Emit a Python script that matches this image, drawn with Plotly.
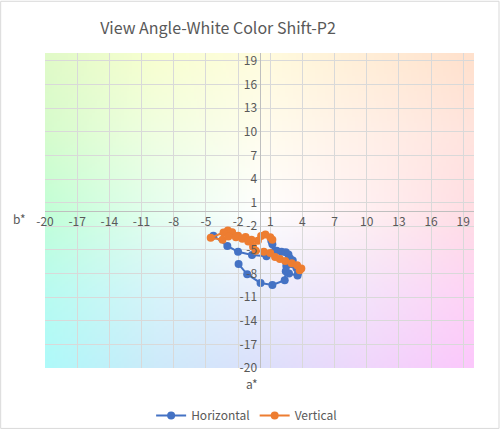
import base64, struct, zlib
import numpy as np
import plotly.graph_objects as go

# ---- data ----
tick_vals = [-20, -17, -14, -11, -8, -5, -2, 1, 4, 7, 10, 13, 16, 19]
tick_text = ["-20", "-17", "-14", "-11", "-8", "-5", "-2", "1", "4", "7", "10", "13", "16", "19"]

horiz_a = [-4.3, -3.0, -2.0, -0.7, 0.65, 1.3, 1.1, 1.2, 1.6, 2.05, 2.45, 2.7, 2.85, 3.1,
           2.9, 2.5, 3.45, 3.6, 3.55, 2.75, 2.45, 2.35, 1.2, 0.1, -1.15, -1.95]
horiz_b = [-3.2, -4.5, -5.25, -5.65, -5.8, -5.3, -3.85, -4.3, -5.1, -5.25, -5.3, -5.6, -6.1, -6.35,
           -6.7, -7.05, -7.3, -7.9, -8.25, -8.0, -7.7, -8.85, -9.45, -9.2, -8.1, -6.8]

vert_a = [1.2, 1.0, 0.55, 0.15, -0.15, -0.75, -1.3, -2.0, -2.55, -2.95, -3.35, -4.55, -3.45,
          -2.9, -2.2, -1.6, -1.05, -0.6, -0.35, 0.4, 1.0, 1.45, 1.9, 2.4, 3.0, 3.5, 3.9, 3.75]
vert_b = [-3.7, -3.4, -3.05, -3.25, -3.85, -3.7, -3.35, -3.2, -2.75, -2.55, -2.8, -3.45, -3.7,
          -3.3, -3.4, -3.6, -3.95, -4.6, -5.1, -5.25, -5.4, -5.9, -6.15, -6.4, -6.7, -6.95, -7.35, -7.6]

# ---- background a*b* colour field (decoration) ----
grid_x = [-20, -10, 0, 10, 20]
grid_y = [20, 10, 0, -10, -20]
grid_rgb = np.array([
    [(225, 250, 200), (248, 255, 208), (255, 252, 222), (255, 238, 215), (255, 225, 205)],
    [(215, 252, 205), (240, 255, 225), (255, 253, 238), (255, 240, 232), (255, 228, 222)],
    [(195, 255, 215), (228, 255, 238), (255, 255, 255), (255, 240, 242), (255, 222, 228)],
    [(185, 252, 240), (215, 245, 250), (235, 238, 252), (245, 228, 250), (255, 212, 245)],
    [(175, 250, 250), (205, 235, 250), (220, 225, 252), (240, 215, 252), (252, 200, 252)],
], dtype=float)

N = 160
xs = np.linspace(-20, 20, N)
ys = np.linspace(20, -20, N)
gx = np.interp(xs, grid_x, np.arange(5))
gy = np.interp(-ys, [-g for g in grid_y], np.arange(5))
img = np.zeros((N, N, 3))
for c in range(3):
    rows = np.array([np.interp(gx, np.arange(5), grid_rgb[r, :, c]) for r in range(5)])
    for j in range(N):
        img[:, j, c] = np.interp(gy, np.arange(5), rows[:, j])
img = np.clip(img, 0, 255).astype(np.uint8)


def png_uri(arr):
    h, w, _ = arr.shape
    raw = b"".join(b"\x00" + arr[i].tobytes() for i in range(h))

    def chunk(t, d):
        c = struct.pack(">I", len(d)) + t + d
        return c + struct.pack(">I", zlib.crc32(t + d) & 0xFFFFFFFF)

    data = b"\x89PNG\r\n\x1a\n" + chunk(b"IHDR", struct.pack(">IIBBBBB", w, h, 8, 2, 0, 0, 0)) \
        + chunk(b"IDAT", zlib.compress(raw, 9)) + chunk(b"IEND", b"")
    return "data:image/png;base64," + base64.b64encode(data).decode()


FONT = "Noto Sans CJK SC, Noto Sans, sans-serif"
GRAY = "#595959"

fig = go.Figure()
fig.add_trace(go.Scatter(x=horiz_a, y=horiz_b, mode="lines+markers", name="Horizontal",
                         line=dict(color="#4472C4", width=2),
                         marker=dict(color="#4472C4", size=8)))
fig.add_trace(go.Scatter(x=vert_a, y=vert_b, mode="lines+markers", name="Vertical",
                         line=dict(color="#ED7D31", width=2),
                         marker=dict(color="#ED7D31", size=8)))

axis_common = dict(range=[-20, 20], tickvals=tick_vals, ticktext=tick_text, showgrid=True,
                   gridcolor="#d9d9d9", gridwidth=1, zeroline=False, showline=True,
                   linecolor="#bfbfbf", linewidth=1, ticks="", anchor="free", position=0.5,
                   automargin=False, fixedrange=True,
                   tickfont=dict(family=FONT, size=12, color=GRAY))
fig.update_layout(
    width=500, height=430,
    margin=dict(l=45, r=26, t=53, b=62, autoexpand=False),
    paper_bgcolor="white", plot_bgcolor="white",
    font=dict(family=FONT, color=GRAY),
    title=dict(text="View Angle-White Color Shift-P2", xref="container", yref="container",
               x=0.436, y=0.935, xanchor="center", yanchor="middle",
               font=dict(family=FONT, size=16, color=GRAY)),
    xaxis=dict(**axis_common),
    yaxis=dict(**axis_common),
    showlegend=True,
    legend=dict(orientation="h", x=0.47, xanchor="center", y=-0.151, yanchor="middle",
                font=dict(family=FONT, size=12, color=GRAY), bgcolor="rgba(0,0,0,0)"),
    images=[dict(source=png_uri(img), xref="x", yref="y", x=-20, y=20, sizex=40, sizey=40,
                 sizing="stretch", layer="below", xanchor="left", yanchor="top")],
    annotations=[
        dict(text="b*", xref="paper", yref="paper", x=-0.059, y=0.476, showarrow=False,
             xanchor="center", yanchor="middle",
             font=dict(family=FONT, size=12, color=GRAY)),
        dict(text="a*", xref="paper", yref="paper", x=0.482, y=-0.05, showarrow=False,
             xanchor="center", yanchor="middle",
             font=dict(family=FONT, size=12, color=GRAY)),
    ],
    shapes=[dict(type="rect", xref="paper", yref="paper", x0=-0.1033, x1=1.0583,
                 y0=-0.1918, y1=1.1642, line=dict(color="#d9d9d9", width=1))],
)

fig.write_html("out.html", config={"displayModeBar": False},
               post_script="document.body.style.margin='0px';document.body.style.overflow='hidden';")
